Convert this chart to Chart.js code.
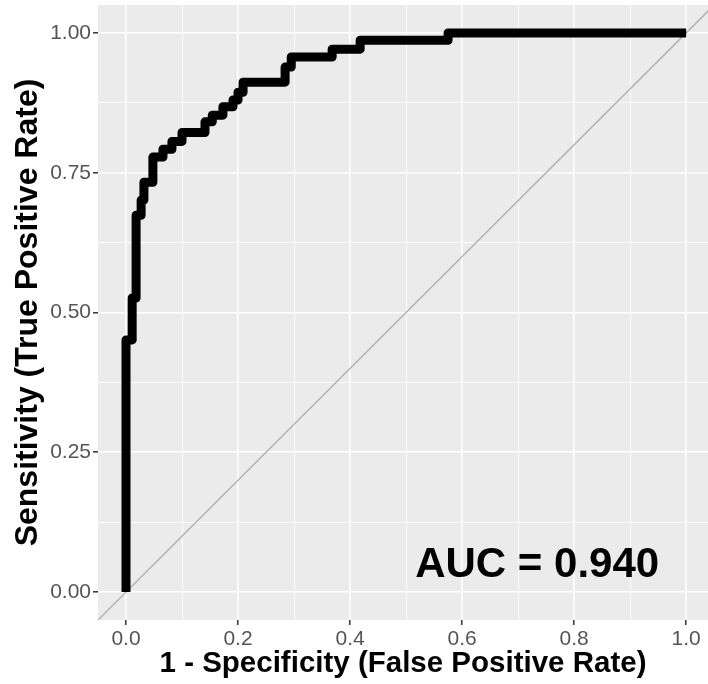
<!DOCTYPE html>
<html>
<head>
<meta charset="utf-8">
<script src="https://cdn.jsdelivr.net/npm/chart.js@4.4.0/dist/chart.umd.min.js"></script>
<style>
  html, body { margin: 0; padding: 0; background: #fff; }
</style>
</head>
<body>
<canvas id="rocChart" width="708" height="684"></canvas>
<script>
// Puntos de la curva ROC (esquinas de la escalera)
const fpr = [0, 0, 0.011, 0.011, 0.018, 0.018, 0.027, 0.027, 0.032, 0.032,
             0.048, 0.048, 0.066, 0.066, 0.082, 0.082, 0.100, 0.100, 0.141, 0.141,
             0.154, 0.154, 0.173, 0.173, 0.191, 0.191, 0.200, 0.200, 0.209, 0.209,
             0.284, 0.284, 0.295, 0.295, 0.368, 0.368, 0.418, 0.418, 0.575, 0.575, 1.0];
const tpr = [0, 0.451, 0.451, 0.526, 0.526, 0.674, 0.674, 0.701, 0.701, 0.733,
             0.733, 0.778, 0.778, 0.792, 0.792, 0.806, 0.806, 0.822, 0.822, 0.841,
             0.841, 0.853, 0.853, 0.868, 0.868, 0.880, 0.880, 0.894, 0.894, 0.912,
             0.912, 0.939, 0.939, 0.957, 0.957, 0.971, 0.971, 0.987, 0.987, 1.0, 1.0];

// Ejes: líneas de rejilla (mayores y menores) y etiquetas
const xGrid = [0, 0.1, 0.2, 0.3, 0.4, 0.5, 0.6, 0.7, 0.8, 0.9, 1.0];
const xLabels = ['0.0', '0.2', '0.4', '0.6', '0.8', '1.0'];
const yGrid = [0, 0.125, 0.25, 0.375, 0.5, 0.625, 0.75, 0.875, 1.0];
const yLabels = ['0.00', '0.25', '0.50', '0.75', '1.00'];

const xTitle = '1 - Specificity (False Positive Rate)';
const yTitle = 'Sensitivity (True Positive Rate)';
const aucText = 'AUC = 0.940';
const aucPos = [0.734, 0.048];

const FONT = "'Liberation Sans', Arial, Helvetica, sans-serif";

const isMajorX = v => xLabels.includes(v.toFixed(1));
const isMajorY = v => yLabels.includes(v.toFixed(2));

const panelBg = {
    id: 'panelBg',
    beforeDraw(chart) {
        const { ctx, chartArea: a } = chart;
        ctx.save();
        ctx.fillStyle = '#ebebeb';
        ctx.fillRect(a.left, a.top, a.right - a.left, a.bottom - a.top);
        ctx.restore();
    }
};

const aucLabel = {
    id: 'aucLabel',
    afterDatasetsDraw(chart) {
        const { ctx, scales } = chart;
        ctx.save();
        ctx.font = `bold 42px ${FONT}`;
        ctx.fillStyle = '#000';
        ctx.textAlign = 'center';
        ctx.textBaseline = 'middle';
        ctx.fillText(aucText, scales.x.getPixelForValue(aucPos[0]), scales.y.getPixelForValue(aucPos[1]));
        ctx.restore();
    }
};

new Chart(document.getElementById('rocChart'), {
    type: 'scatter',
    data: {
        datasets: [
            {
                label: 'ROC',
                data: fpr.map((x, i) => ({ x: x, y: tpr[i] })),
                showLine: true,
                borderColor: '#000',
                borderWidth: 9,
                borderJoinStyle: 'round',
                borderCapStyle: 'butt',
                pointRadius: 0
            },
            {
                label: 'Referencia',
                data: [{ x: -0.1, y: -0.1 }, { x: 1.1, y: 1.1 }],
                showLine: true,
                borderColor: '#b3b3b3',
                borderWidth: 1.5,
                pointRadius: 0
            }
        ]
    },
    options: {
        responsive: false,
        animation: false,
        layout: { padding: { top: 5, right: 0, bottom: 0, left: 0 } },
        plugins: {
            legend: { display: false },
            tooltip: { enabled: false }
        },
        scales: {
            x: {
                type: 'linear',
                min: -0.05,
                max: 1.039,
                afterBuildTicks: s => { s.ticks = xGrid.map(v => ({ value: v })); },
                afterFit: s => { s.height = 64; s.paddingLeft = 0; s.paddingRight = 0; },
                border: { display: false },
                grid: {
                    color: '#fff',
                    lineWidth: c => isMajorX(c.tick.value) ? 1.6 : 0.8,
                    tickLength: 5,
                    tickWidth: 1.5,
                    tickColor: c => isMajorX(c.tick.value) ? '#333' : 'rgba(0,0,0,0)'
                },
                ticks: {
                    autoSkip: false,
                    maxRotation: 0,
                    padding: 2,
                    color: '#555',
                    font: { family: FONT, size: 21 },
                    callback: v => isMajorX(v) ? v.toFixed(1) : ''
                },
                title: {
                    display: true,
                    text: xTitle,
                    color: '#000',
                    font: { family: FONT, size: 29.5, weight: 'bold' },
                    padding: { top: 0, bottom: 2 }
                }
            },
            y: {
                type: 'linear',
                min: -0.05,
                max: 1.05,
                afterBuildTicks: s => { s.ticks = yGrid.map(v => ({ value: v })); },
                afterFit: s => { s.width = 98; s.paddingTop = 0; s.paddingBottom = 0; },
                border: { display: false },
                grid: {
                    color: '#fff',
                    lineWidth: c => isMajorY(c.tick.value) ? 1.6 : 0.8,
                    tickLength: 5,
                    tickWidth: 1.5,
                    tickColor: c => isMajorY(c.tick.value) ? '#333' : 'rgba(0,0,0,0)'
                },
                ticks: {
                    autoSkip: false,
                    padding: 2,
                    color: '#555',
                    font: { family: FONT, size: 21 },
                    callback: v => isMajorY(v) ? v.toFixed(2) : ''
                },
                title: {
                    display: true,
                    text: yTitle,
                    color: '#000',
                    font: { family: FONT, size: 32, weight: 'bold' },
                    padding: { top: 9, bottom: 0 }
                }
            }
        }
    },
    plugins: [panelBg, aucLabel]
});
</script>
</body>
</html>
